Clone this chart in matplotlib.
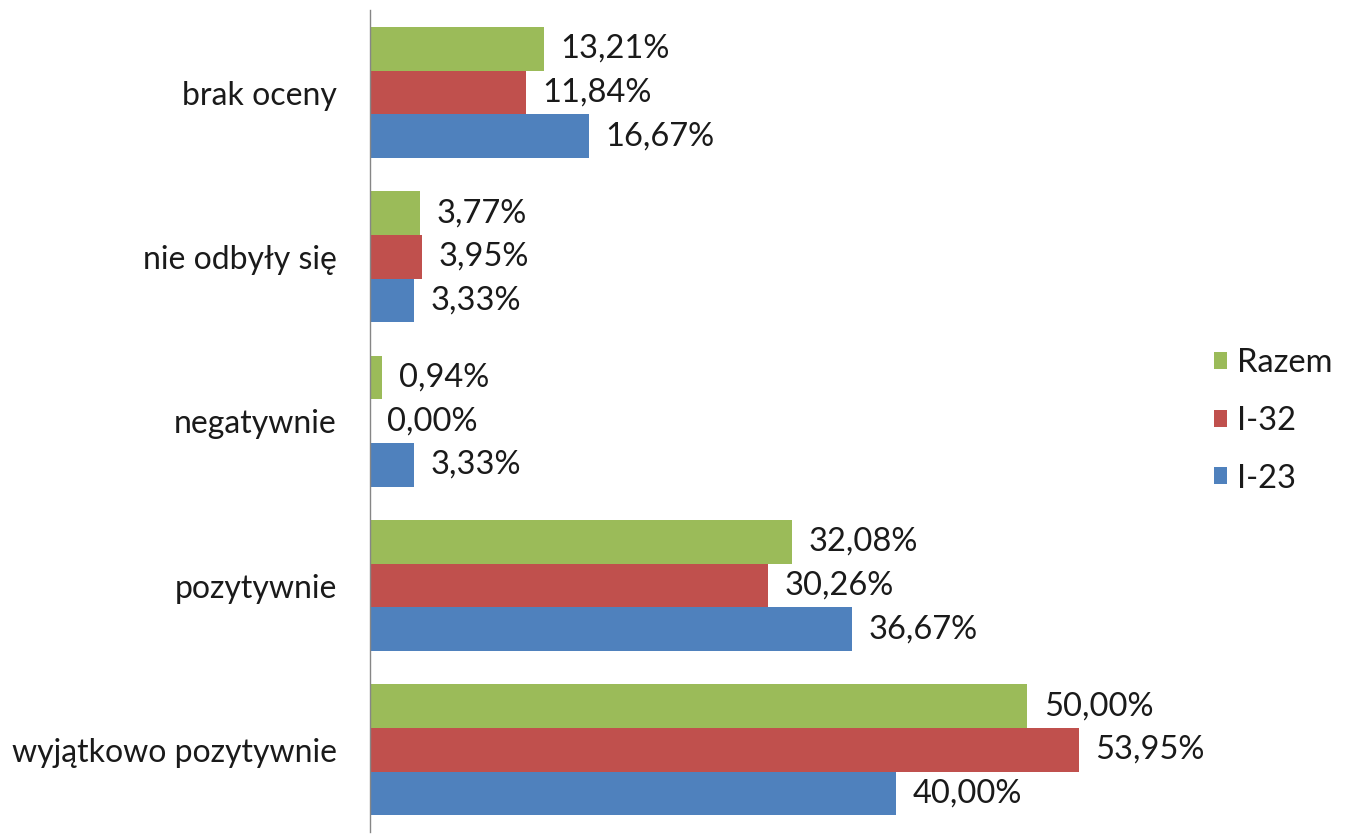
import matplotlib
matplotlib.use('Agg')
import matplotlib.pyplot as plt
from matplotlib.patches import Patch
import numpy as np

# data (top to bottom)
categories = ['brak oceny', 'nie odbyły się', 'negatywnie', 'pozytywnie', 'wyjątkowo pozytywnie']
razem = [13.21, 3.77, 0.94, 32.08, 50.00]
i32 = [11.84, 3.95, 0.00, 30.26, 53.95]
i23 = [16.67, 3.33, 3.33, 36.67, 40.00]
series_names = ['Razem', 'I-32', 'I-23']
colors = ['#9BBB59', '#C0504D', '#4F81BD']


def fmt(v):
    return ('%.2f' % v).replace('.', ',') + '%'


def main():
    plt.rcParams['font.family'] = ['Lato', 'DejaVu Sans']
    fig = plt.figure(figsize=(13.59, 8.35), dpi=100)
    ax = fig.add_axes([0.2723, 0.0036, 0.611, 0.984])

    n = len(categories)
    y = np.arange(n)[::-1]  # first category on top
    h = 0.266

    groups = [razem, i32, i23]
    offsets = [h, 0, -h]
    for vals, off, col in zip(groups, offsets, colors):
        ax.barh(y + off, vals, height=h, color=col, edgecolor='none')
        for yy, v in zip(y + off, vals):
            ax.annotate(fmt(v), xy=(v, yy), xytext=(12, 0), textcoords='offset points',
                        va='center', ha='left', fontsize=23.5, color='#1a1a1a')

    ax.set_xlim(0, 63.2)
    ax.set_ylim(-0.5, n - 0.5)
    ax.set_yticks(y)
    ax.set_yticklabels(categories, fontsize=23, color='#1a1a1a')
    ax.tick_params(axis='y', length=0, pad=24)
    ax.set_xticks([])
    for s in ['top', 'right', 'bottom']:
        ax.spines[s].set_visible(False)
    ax.spines['left'].set_color('#868686')
    ax.spines['left'].set_linewidth(1.0)

    handles = [Patch(facecolor=c, edgecolor='none') for c in colors]
    fig.legend(handles, series_names, loc='center left', bbox_to_anchor=(0.893, 0.496),
               bbox_transform=fig.transFigure, frameon=False, fontsize=23.5,
               handlelength=0.42, handleheight=0.42, handletextpad=0.3,
               labelspacing=0.85, borderpad=0, borderaxespad=0, labelcolor='#1a1a1a')

    fig.savefig('out.png', dpi=100)


if __name__ == '__main__':
    main()
